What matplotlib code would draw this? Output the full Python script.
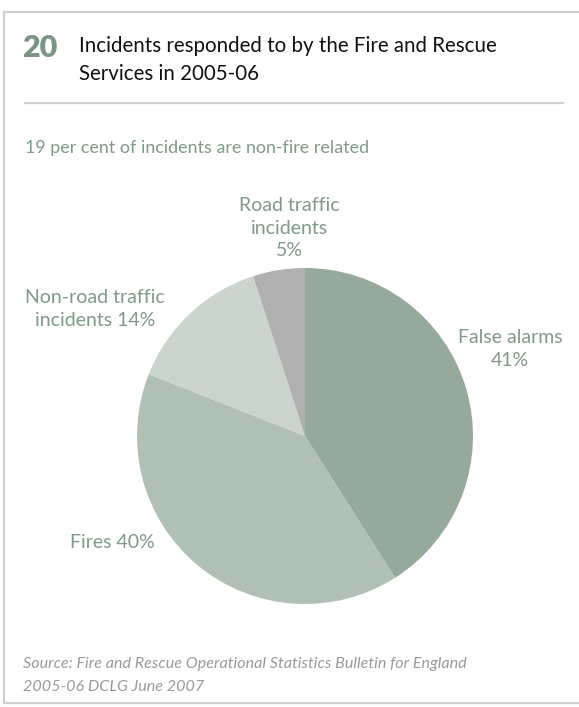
import matplotlib.pyplot as plt
from matplotlib.lines import Line2D

plt.rcParams['font.family'] = ['Lato', 'DejaVu Sans']

# incident shares, clockwise from 12 o'clock
categories = ['False alarms', 'Fires', 'Non-road traffic incidents', 'Road traffic incidents']
shares = [41, 40, 14, 5]
colours = ['#96aa9c', '#b1c0b5', '#cad5cd', '#b0b0b0']

label_text = ['False alarms\n41%', 'Fires 40%', 'Non-road traffic\nincidents 14%',
              'Road traffic\nincidents\n5%']

GREEN = '#7f9a88'
W, H = 579, 707

fig = plt.figure(figsize=(W / 100, H / 100), dpi=100)

def fx(x):
    return x / W

def fy(y):
    return 1 - y / H

# panel frame (left, top and bottom edges) and divider under the title
frame = dict(color='#d0d0d0', linewidth=1.6, transform=fig.transFigure)
fig.add_artist(Line2D([fx(4), fx(4)], [fy(12), fy(703)], **frame))
fig.add_artist(Line2D([fx(4), 1], [fy(12), fy(12)], **frame))
fig.add_artist(Line2D([fx(4), 1], [fy(703), fy(703)], **frame))
fig.add_artist(Line2D([fx(25), fx(563)], [fy(103), fy(103)], **frame))

fig.text(fx(22), fy(57), '20', fontsize=22, fontweight='heavy', color='#7a9583',
         va='baseline')
title_lines = ['Incidents responded to by the Fire and Rescue', 'Services in 2005-06']
for i, line in enumerate(title_lines):
    fig.text(fx(79), fy(52 + 28 * i), line, fontsize=14.8, color='#111111',
             va='baseline')
fig.text(fx(25), fy(153), '19 per cent of incidents are non-fire related',
         fontsize=12.9, color=GREEN, va='baseline')

# pie: centre (305, 436), radius 168 px
cx, cy, r = 305, 436, 168
ax = fig.add_axes([fx(cx - r), fy(cy + r), 2 * r / W, 2 * r / H])
ax.pie(shares, colors=colours, startangle=90, counterclock=False,
       wedgeprops=dict(linewidth=0))
ax.set_xlim(-1, 1)
ax.set_ylim(-1, 1)
ax.set_aspect('equal')
ax.axis('off')

# slice labels placed around the pie
label_pos = [(510, 349), (112, 542), (95, 309), (289, 228)]
for text, (x, y) in zip(label_text, label_pos):
    fig.text(fx(x), fy(y), text, fontsize=14, color=GREEN, ha='center', va='center',
             linespacing=1.4)

fig.text(fx(23), fy(664), 'Source: Fire and Rescue Operational Statistics Bulletin for England',
         fontsize=11.6, style='italic', color='#9a9a9a', va='center')
fig.text(fx(23), fy(687), '2005-06 DCLG June 2007',
         fontsize=11.6, style='italic', color='#9a9a9a', va='center')

fig.savefig('out.png', dpi=100)
